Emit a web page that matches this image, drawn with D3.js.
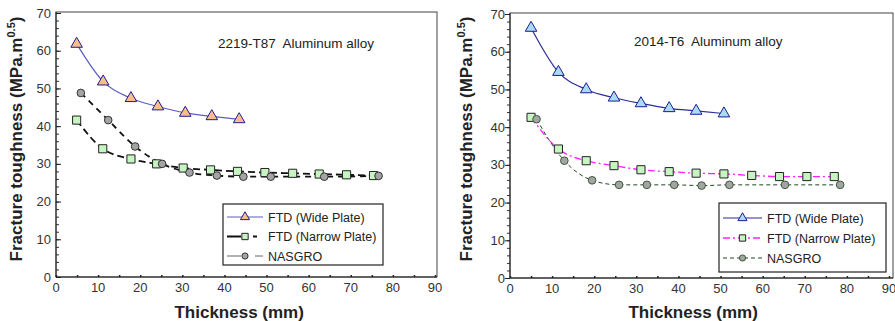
<!DOCTYPE html>
<html>
<head>
<meta charset="utf-8">
<script src="https://cdn.jsdelivr.net/npm/d3@7"></script>
<style>
  body { margin: 0; background: #fff; }
  svg { display: block; font-family: "Liberation Sans", Arial, sans-serif; }
</style>
</head>
<body>
<div id="chart"></div>
<script>
// values, [thickness mm, toughness MPa.m^0.5]
var wide2219   = [[4.9,61.8],[11.2,51.8],[17.8,47.4],[24.2,45.2],[30.7,43.5],[37,42.6],[43.5,41.8]];
var narrow2219 = [[4.9,41.6],[11.1,34],[17.8,31.3],[23.9,30],[30.2,28.9],[36.7,28.4],[43.1,28],[49.6,27.7],[56.2,27.5],[62.5,27.3],[69,27.1],[75.4,26.9]];
var nasgro2219 = [[5.9,48.8],[12.4,41.6],[18.8,34.6],[25.2,30],[31.7,27.7],[38.2,26.9],[44.5,26.6],[51,26.6],[63.7,26.6],[76.6,26.8]];

var wide2014   = [[5,66.3],[11.5,54.6],[18.1,50],[24.7,47.8],[31.1,46.3],[37.8,45],[44.2,44.3],[50.8,43.6]];
var narrow2014 = [[5,42.6],[11.5,34.2],[18.1,31.1],[24.7,29.8],[31.1,28.7],[37.8,28.2],[44.2,27.8],[50.8,27.6],[57.4,27.2],[64,26.9],[70.5,26.9],[77,26.9]];
var nasgro2014 = [[6.3,42.1],[12.9,31.1],[19.5,25.9],[25.9,24.7],[32.5,24.7],[39,24.7],[45.5,24.5],[52.1,24.7],[65.3,24.7],[78.4,24.7]];

var xTicks = [0,10,20,30,40,50,60,70,80,90];
var yTicks = [0,10,20,30,40,50,60,70];
var legendNames = ["FTD (Wide Plate)", "FTD (Narrow Plate)", "NASGRO"];

var svg = d3.select("#chart").append("svg")
  .attr("width", 895).attr("height", 321);

function drawPanel(p) {
  var x = d3.scaleLinear().domain([0, 90]).range([p.left, p.left + 379]);
  var y = d3.scaleLinear().domain([0, 70]).range([p.bottom, p.bottom - 264]);
  var g = svg.append("g");

  // frame
  g.append("rect")
    .attr("x", p.left).attr("y", y(70) - 1)
    .attr("width", p.frameW).attr("height", p.bottom - y(70) + 1)
    .style("fill", "none").style("stroke", "#444").style("stroke-width", 1);

  // axes
  var yAxis = (p.tickOut ? d3.axisLeft(y) : d3.axisRight(y))
    .tickValues(d3.range(0, 71, 2)).tickSize(3).tickFormat("");
  g.append("g").attr("transform", "translate(" + p.left + ",0)").call(yAxis)
    .call(function(a) { a.select(".domain").remove(); a.selectAll("line").style("stroke", "#333"); });
  g.append("g").attr("transform", "translate(" + p.left + ",0)")
    .call((p.tickOut ? d3.axisLeft(y) : d3.axisRight(y)).tickValues(yTicks).tickSize(5).tickFormat(""))
    .call(function(a) { a.select(".domain").remove(); a.selectAll("line").style("stroke", "#222"); });
  g.append("g").attr("transform", "translate(0," + p.bottom + ")")
    .call(d3.axisTop(x).tickValues(d3.range(0, 91, 5)).tickSize(2).tickFormat(""))
    .call(function(a) { a.select(".domain").remove(); a.selectAll("line").style("stroke", "#222").style("stroke-width", 1.5); });
  g.append("line").attr("x1", p.left).attr("x2", p.left).attr("y1", y(70) - 1).attr("y2", p.bottom)
    .style("stroke", "#222");
  g.append("line").attr("x1", p.left).attr("x2", p.left + p.frameW).attr("y1", p.bottom).attr("y2", p.bottom)
    .style("stroke", "#222");

  // tick labels
  g.selectAll(".ylab").data(yTicks).enter().append("text")
    .attr("x", p.left - 5).attr("y", function(d) { return y(d) + 4.5; })
    .attr("text-anchor", "end").style("font-size", "13px").style("fill", "#333")
    .text(function(d) { return d; });
  g.selectAll(".xlab").data(xTicks).enter().append("text")
    .attr("x", function(d) { return x(d); }).attr("y", p.bottom + 15)
    .attr("text-anchor", "middle").style("font-size", "13px").style("fill", "#333")
    .text(function(d) { return d; });

  // titles
  var yt = g.append("text")
    .attr("transform", "translate(" + p.yTitleX + "," + 139 + ") rotate(-90)")
    .attr("text-anchor", "middle").style("font-size", "17px").style("font-weight", "bold").style("fill", "#222");
  yt.append("tspan").text("Fracture toughness (MPa.m");
  yt.append("tspan").attr("dy", -7).style("font-size", "11px").text("0.5");
  yt.append("tspan").attr("dy", 7).text(")");
  g.append("text").attr("x", x(43.5)).attr("y", 318)
    .attr("text-anchor", "middle").style("font-size", "17px").style("font-weight", "bold").style("fill", "#222")
    .text("Thickness (mm)");
  g.append("text").attr("x", p.noteX).attr("y", p.noteY)
    .style("font-size", "13.5px").style("fill", "#222").style("white-space", "pre")
    .text(p.note);

  // lines
  p.series.forEach(function(s) {
    var line = d3.line().x(function(d) { return x(d[0]); }).y(function(d) { return y(d[1]); })
      .curve(d3.curveMonotoneX);
    g.append("path").datum(s.data).attr("d", line)
      .style("fill", "none").style("stroke", s.line).style("stroke-width", s.lw)
      .style("stroke-dasharray", s.dash);
  });
  // markers
  p.series.forEach(function(s) {
    g.selectAll(null).data(s.data).enter().append("path")
      .attr("transform", function(d) { return "translate(" + x(d[0]) + "," + y(d[1]) + ")"; })
      .attr("d", s.symbol)
      .style("fill", s.fill).style("stroke", s.stroke).style("stroke-width", 1);
  });

  // legend
  var L = p.legend;
  g.append("rect").attr("x", L.x).attr("y", L.y).attr("width", L.w).attr("height", L.h)
    .style("fill", "#fff").style("stroke", "#222").style("stroke-width", 1.2);
  p.series.forEach(function(s, i) {
    var ly = L.y + L.first + i * L.step;
    g.append("line").attr("x1", L.x + 4).attr("x2", L.x + L.lineW).attr("y1", ly).attr("y2", ly)
      .style("stroke", s.legLine || s.line).style("stroke-width", s.legLw || s.lw)
      .style("stroke-dasharray", s.legDash || s.dash);
    g.append("path").attr("transform", "translate(" + (L.x + 4 + (L.lineW - 4) / 2) + "," + ly + ")")
      .attr("d", s.legSymbol).style("fill", s.fill).style("stroke", s.stroke);
    g.append("text").attr("x", L.x + L.lineW + 5).attr("y", ly + 4.5)
      .style("font-size", "12.5px").style("fill", "#222")
      .text(legendNames[i]);
  });
}

var tri = d3.symbol().type(d3.symbolTriangle).size(58)();
var sq = d3.symbol().type(d3.symbolSquare).size(66)();
var circ = d3.symbol().type(d3.symbolCircle).size(46)();
var triS = d3.symbol().type(d3.symbolTriangle).size(36)();
var sqS = d3.symbol().type(d3.symbolSquare).size(40)();
var circS = d3.symbol().type(d3.symbolCircle).size(30)();

drawPanel({
  left: 56, bottom: 277, frameW: 381, tickOut: false, yTitleX: 22,
  note: "2219-T87  Aluminum alloy", noteX: 218, noteY: 48,
  legend: { x: 223, y: 204, w: 160, h: 61, first: 13, step: 19.5, lineW: 40 },
  series: [
    { data: wide2219, line: "#5c5cc4", lw: 1.2, dash: null, symbol: tri, legSymbol: triS, fill: "#fbbd8c", stroke: "#1c1c90" },
    { data: narrow2219, line: "#111", lw: 1.8, dash: "7,4", symbol: sq, legSymbol: sqS, fill: "#c6f5c2", stroke: "#222",
      legDash: "14,6,0,6,4", legLw: 2 },
    { data: nasgro2219, line: "#111", lw: 1.8, dash: "6,5", symbol: circ, legSymbol: circS, fill: "#a4a4a4", stroke: "#333",
      legLine: "#666", legLw: 1, legDash: "14,14,8" }
  ]
});

drawPanel({
  left: 510, bottom: 278, frameW: 383, tickOut: true, yTitleX: 472,
  note: "2014-T6  Aluminum alloy", noteX: 634, noteY: 46,
  legend: { x: 719, y: 203, w: 167, h: 69, first: 15, step: 20, lineW: 43 },
  series: [
    { data: wide2014, line: "#2c2c9c", lw: 1.2, dash: null, symbol: tri, legSymbol: triS, fill: "#a9dcf4", stroke: "#1c1c90" },
    { data: narrow2014, line: "#ff22ff", lw: 1.3, dash: "7,3,2,3", symbol: sq, legSymbol: sqS, fill: "#c6f5c2", stroke: "#222" },
    { data: nasgro2014, line: "#1f4a1f", lw: 1, dash: "4,3", symbol: circ, legSymbol: circS, fill: "#a4a4a4", stroke: "#3a5a3a" }
  ]
});
</script>
</body>
</html>
